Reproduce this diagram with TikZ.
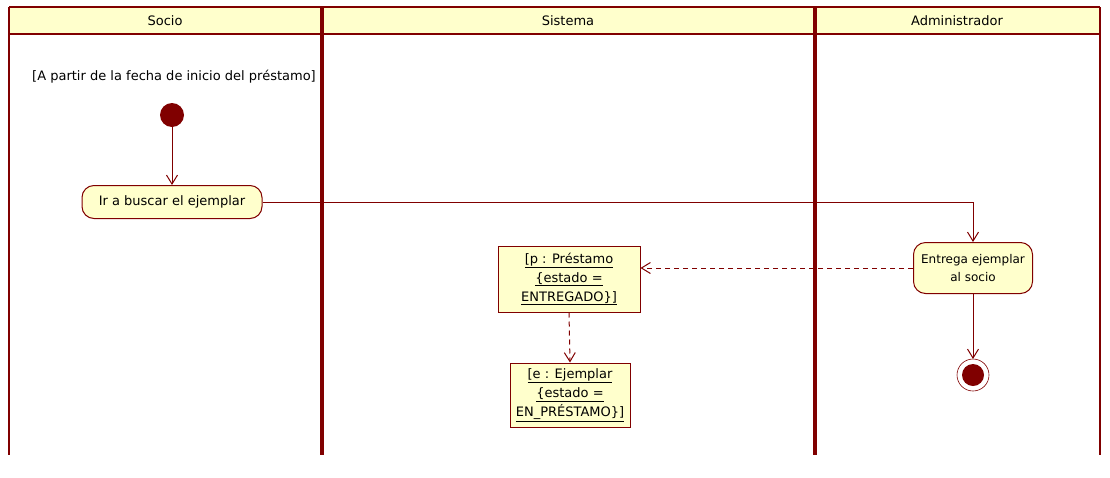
\documentclass[tikz,border=0pt]{standalone}
\usepackage{fontspec}
\setmainfont{DejaVu Sans}
\usetikzlibrary{arrows.meta,positioning}
\definecolor{umlred}{RGB}{128,0,0}
\definecolor{umlfill}{RGB}{255,255,204}
\tikzset{>={Straight Barb[length=9pt,width=11pt]}}

\begin{document}
\begin{tikzpicture}[x=1pt,y=-1pt,font=\fontsize{13}{19}\selectfont,
    lane/.style={draw=umlred,line width=4pt},
    border/.style={draw=umlred,line width=1.5pt},
    flow/.style={draw=umlred,line width=1pt},
    act/.style={draw=umlred,fill=umlfill,rounded corners=12pt,line width=1pt,
      align=center,inner xsep=4pt},
    obj/.style={draw=umlred,fill=umlfill,line width=1pt,align=center,inner sep=3pt}]
    \useasboundingbox (0,0) rectangle (1110,477);
    % header band and lanes
    \fill[umlfill] (9,7) rectangle (1100,34);
    \draw[border] (9,7) -- (1100,7);
    \draw[umlred,line width=2.5pt] (9,34) -- (1100,34);
    \draw[border] (9,7) -- (9,455);
    \draw[border] (1100,7) -- (1100,455);
    \draw[lane] (322,7) -- (322,455);
    \draw[lane] (815,7) -- (815,455);
    \node (socio) at (165,21) {Socio};
    \node (sistema) at (568,21) {Sistema};
    \node (admin) at (957,21) {Administrador};
    % socio
    \node (cond) at (174,77) {[A partir de la fecha de inicio del préstamo]};
    \fill[umlred] (172,115) circle (12) coordinate (start);
    \node[act,minimum width=180pt,minimum height=33pt] (ir) at (172,202) {Ir a buscar el ejemplar};
    % administrador
    \node[act,minimum width=119pt,minimum height=51pt,font=\fontsize{12}{18}\selectfont] (entrega) at (973,268)
      {Entrega ejemplar\\al socio};
    \draw[umlred,fill=white,line width=0.6pt] (973,375) circle (16);
    \fill[umlred] (973,375) circle (11);
    \coordinate (fin) at (973,359);
    % sistema
    \node[obj,minimum width=142pt,minimum height=66pt] (p) at (569,279)
      {\underline{[p : Préstamo}\\\underline{\{estado =}\\\underline{ENTREGADO\}]}};
    \node[obj,minimum width=120pt,minimum height=64pt] (e) at (570,395)
      {\underline{[e : Ejemplar}\\\underline{\{estado =}\\\underline{EN\_PRÉSTAMO\}]}};
    % flujos
    \draw[flow,->] (start) ++(0,12) -- (ir.north);
    \draw[flow,->] (ir.east) -| (entrega.north);
    \draw[flow,->] (entrega.south) -- (fin);
    \draw[flow,dash pattern=on 5pt off 4pt,->] (entrega.west) -- (entrega.west -| p.east);
    \draw[flow,dash pattern=on 5pt off 4pt,->] (p.south) -- (e.north);
\end{tikzpicture}
\end{document}
